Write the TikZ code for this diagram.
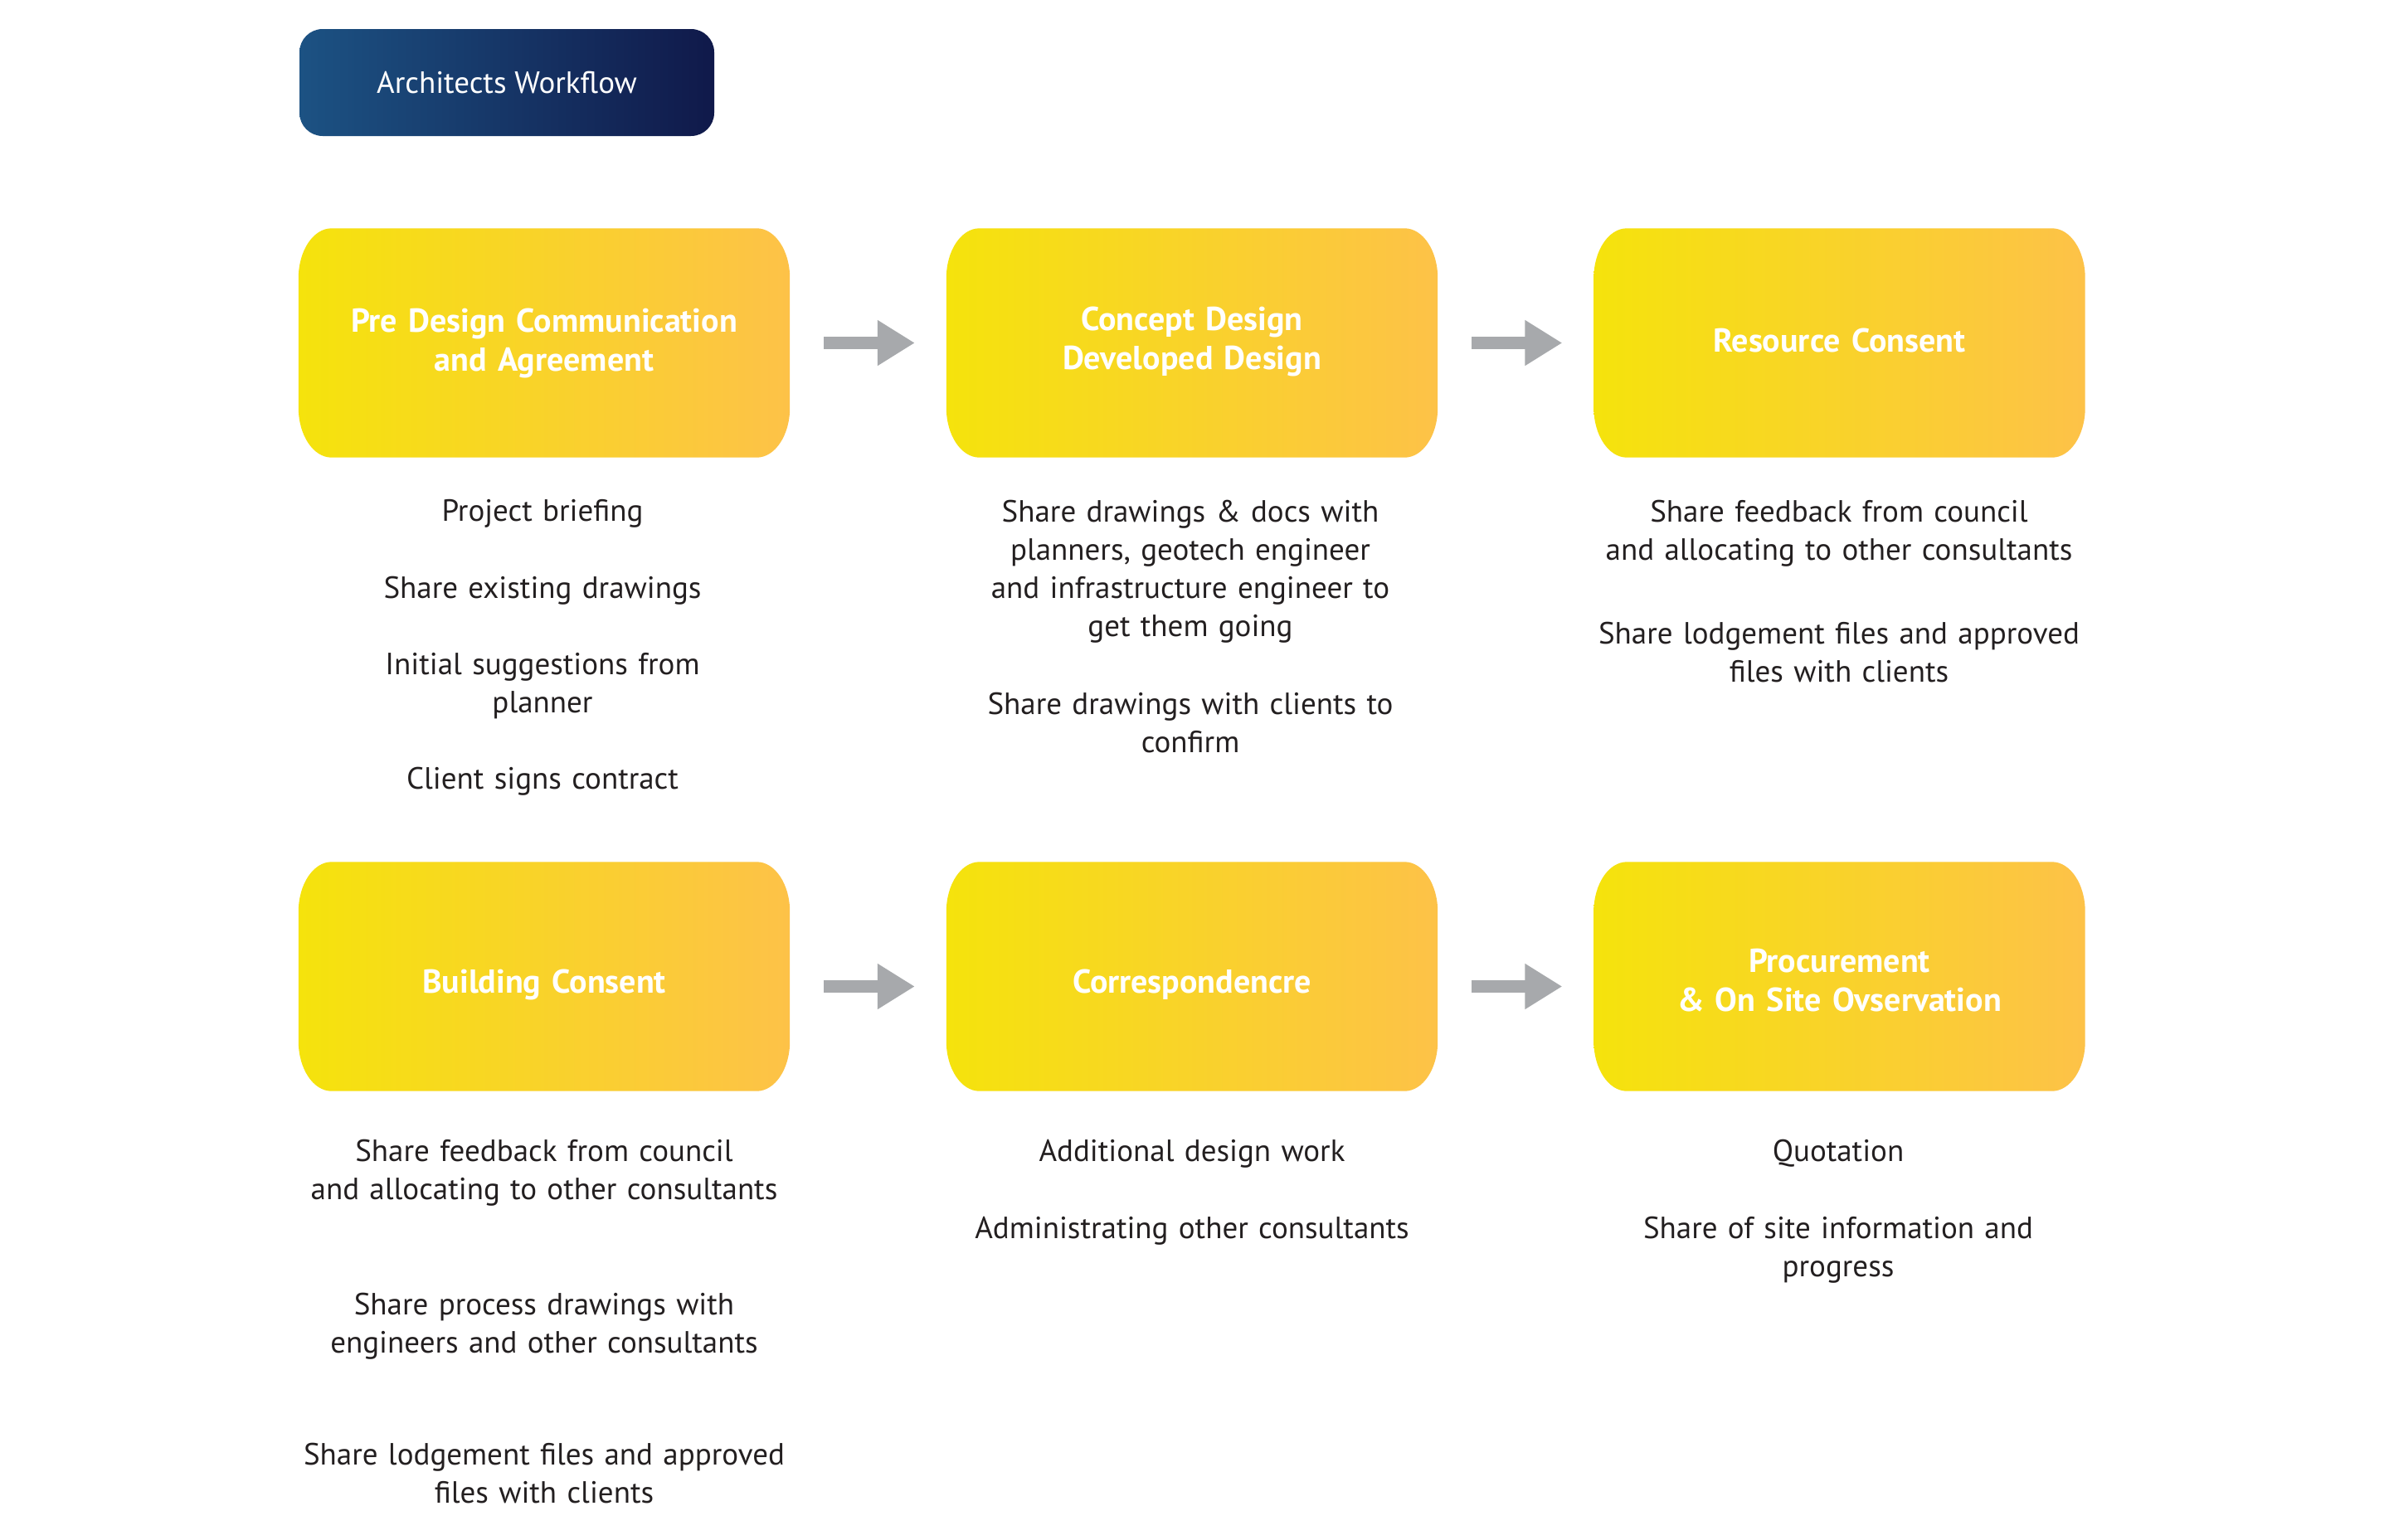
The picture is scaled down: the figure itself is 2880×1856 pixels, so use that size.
\documentclass[tikz,border=0pt]{standalone}
\usepackage{fontspec}
\setmainfont{PT Sans}
\usetikzlibrary{arrows.meta,backgrounds}
\definecolor{yelL}{HTML}{F5E30C}
\definecolor{yelR}{HTML}{FDC248}
\definecolor{blueL}{HTML}{1C5283}
\definecolor{blueR}{HTML}{10194A}
\definecolor{arrowgray}{HTML}{A7A9AC}
\definecolor{bodytext}{HTML}{231F20}
\newcommand\stageshape[1]{%
  \path[left color=yelL, right color=yelR]
    ([xshift=40pt]#1.north west) -- ([xshift=-40pt]#1.north east)
    arc[start angle=90, end angle=0, x radius=40pt, y radius=60pt]
    -- ([yshift=60pt]#1.south east)
    arc[start angle=0, end angle=-90, x radius=40pt, y radius=60pt]
    -- ([xshift=40pt]#1.south west)
    arc[start angle=270, end angle=180, x radius=40pt, y radius=60pt]
    -- ([yshift=-60pt]#1.north west)
    arc[start angle=180, end angle=90, x radius=40pt, y radius=60pt]
    -- cycle;}
\tikzset{
  titlebox/.style={minimum width=500pt, minimum height=129pt, rounded corners=28pt,
    left color=blueL, right color=blueR, text=white, inner sep=0pt,
    font=\fontsize{37}{44}\selectfont},
  stagebox/.style={minimum width=592pt, minimum height=276pt, inner sep=0pt},
  stagelabel/.style={text=white, font=\fontsize{40}{47}\selectfont\bfseries,
    align=center, text width=580pt, anchor=base, inner sep=0pt},
  bodytxt/.style={text=bodytext, font=\fontsize{37}{46}\selectfont,
    align=center, text width=660pt, anchor=base, inner sep=0pt},
  flow/.style={line width=15pt, draw=arrowgray,
    -{Triangle[length=45pt,width=52pt]}, shorten <=41pt, shorten >=38pt},
}
\begin{document}
\begin{tikzpicture}[x=1pt,y=-1pt]
\path[use as bounding box] (0,0) rectangle (2880,1856);

\node[titlebox] (title) at (611,99.5) {Architects Workflow};

% stage boxes
\node[stagebox] (s1) at (656,413.5) {};
\node[stagebox] (s2) at (1437,413.5) {};
\node[stagebox] (s3) at (2217.5,413.5) {};
\node[stagebox] (s4) at (656,1177.5) {};
\node[stagebox] (s5) at (1437,1177.5) {};
\node[stagebox] (s6) at (2217.5,1177.5) {};
\begin{scope}[on background layer]
  \fill[white] (0,0) rectangle (2880,1856);
  \stageshape{s1}\stageshape{s2}\stageshape{s3}
  \stageshape{s4}\stageshape{s5}\stageshape{s6}
\end{scope}

% stage labels
\node[stagelabel] (l1) at (656,400) {Pre Design Communication\\and Agreement};
\node[stagelabel] (l2) at (1437,398) {Concept Design\\Developed Design};
\node[stagelabel] (l3) at (2217.5,424) {Resource Consent};
\node[stagelabel] (l4) at (656,1197) {Building Consent};
\node[stagelabel] (l5) at (1437,1197) {Correspondencre};
\node[stagelabel] (l6) at (2217.5,1172) {Procurement\\\& On Site Ovservation};

% arrows
\draw[flow] (s1.east) -- (s2.west);
\draw[flow] (s2.east) -- (s3.west);
\draw[flow] ([yshift=-12pt]s4.east) -- ([yshift=-12pt]s5.west);
\draw[flow] ([yshift=-12pt]s5.east) -- ([yshift=-12pt]s6.west);

% column 1, row 1
\node[bodytxt] (a1) at (654,628) {Project briefing};
\node[bodytxt] (a2) at (654,721) {Share existing drawings};
\node[bodytxt] (a3) at (654,813) {Initial suggestions from\\planner};
\node[bodytxt] (a4) at (654,951) {Client signs contract};
% column 2, row 1
\node[bodytxt] (b1) at (1435,629) {Share drawings \& docs with\\planners, geotech engineer\\and infrastructure engineer to\\get them going};
\node[bodytxt] (b2) at (1435,861) {Share drawings with clients to\\confirm};
% column 3, row 1
\node[bodytxt] (c1) at (2217,629) {Share feedback from council\\and allocating to other consultants};
\node[bodytxt] (c2) at (2217,776) {Share lodgement files and approved\\files with clients};
% column 1, row 2
\node[bodytxt] (d1) at (656,1400) {Share feedback from council\\and allocating to other consultants};
\node[bodytxt] (d2) at (656,1585) {Share process drawings with\\engineers and other consultants};
\node[bodytxt] (d3) at (656,1766) {Share lodgement files and approved\\files with clients};
% column 2, row 2
\node[bodytxt] (e1) at (1437,1400) {Additional design work};
\node[bodytxt] (e2) at (1437,1493) {Administrating other consultants};
% column 3, row 2
\node[bodytxt] (f1) at (2216,1400) {Quotation};
\node[bodytxt] (f2) at (2216,1493) {Share of site information and\\progress};
\end{tikzpicture}
\end{document}
